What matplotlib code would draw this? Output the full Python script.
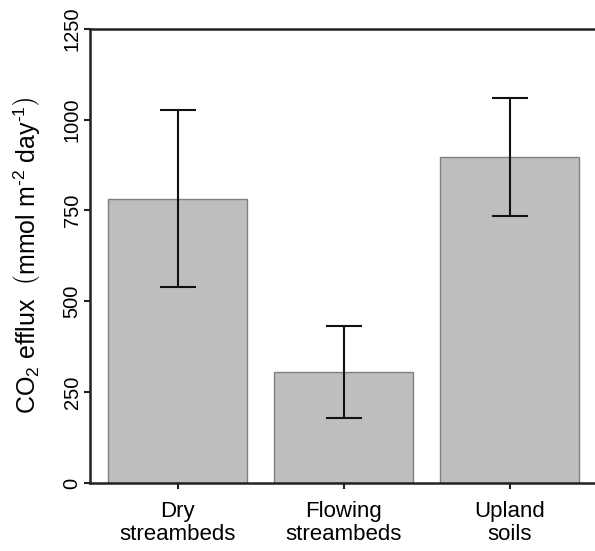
import matplotlib.pyplot as plt
import numpy as np

plt.rcParams['font.family'] = ['Liberation Sans', 'DejaVu Sans']
plt.rcParams['mathtext.fontset'] = 'custom'
plt.rcParams['mathtext.rm'] = 'Liberation Sans'
plt.rcParams['mathtext.it'] = 'Liberation Sans:italic'
plt.rcParams['mathtext.bf'] = 'Liberation Sans:bold'

# data
categories = ['Dry\nstreambeds', 'Flowing\nstreambeds', 'Upland\nsoils']
efflux = [782, 305, 897]
err_low = [242, 127, 162]
err_high = [245, 128, 163]
yticks = [0, 250, 500, 750, 1000, 1250]

fig = plt.figure(figsize=(5.95, 5.51), dpi=100)
ax = fig.add_axes([0.1513, 0.1234, 0.8487, 0.8245])

x = np.arange(len(categories))
ax.bar(x, efflux, width=0.838, color='#bebebe', edgecolor='#808080', linewidth=1.0, zorder=2)
ax.errorbar(x, efflux, yerr=[err_low, err_high], fmt='none', ecolor='#111111',
            elinewidth=1.5, capsize=13, capthick=1.5, zorder=3)

ax.set_xlim(-0.529, 2.515)
ax.set_ylim(0, 1250)
ax.set_xticks(x)
ax.set_xticklabels(categories, fontsize=16, linespacing=1.15)
ax.set_yticks(yticks)
ax.set_yticklabels([str(t) for t in yticks], fontsize=14.5, rotation=90, va='center')

for s in ['left', 'top', 'bottom']:
    ax.spines[s].set_linewidth(1.8)
    ax.spines[s].set_color('#222222')
ax.spines['right'].set_visible(False)
ax.tick_params(axis='both', direction='out', length=4, width=1.5, color='#222222')
ax.tick_params(axis='x', pad=9)
ax.tick_params(axis='y', pad=2)

ax.set_ylabel(r'CO$_2$ efflux  $\left(\text{mmol m}^{\text{-2}}\text{ day}^{\text{-1}}\right)$',
              fontsize=18, labelpad=14)

fig.savefig('out.png', dpi=100)
